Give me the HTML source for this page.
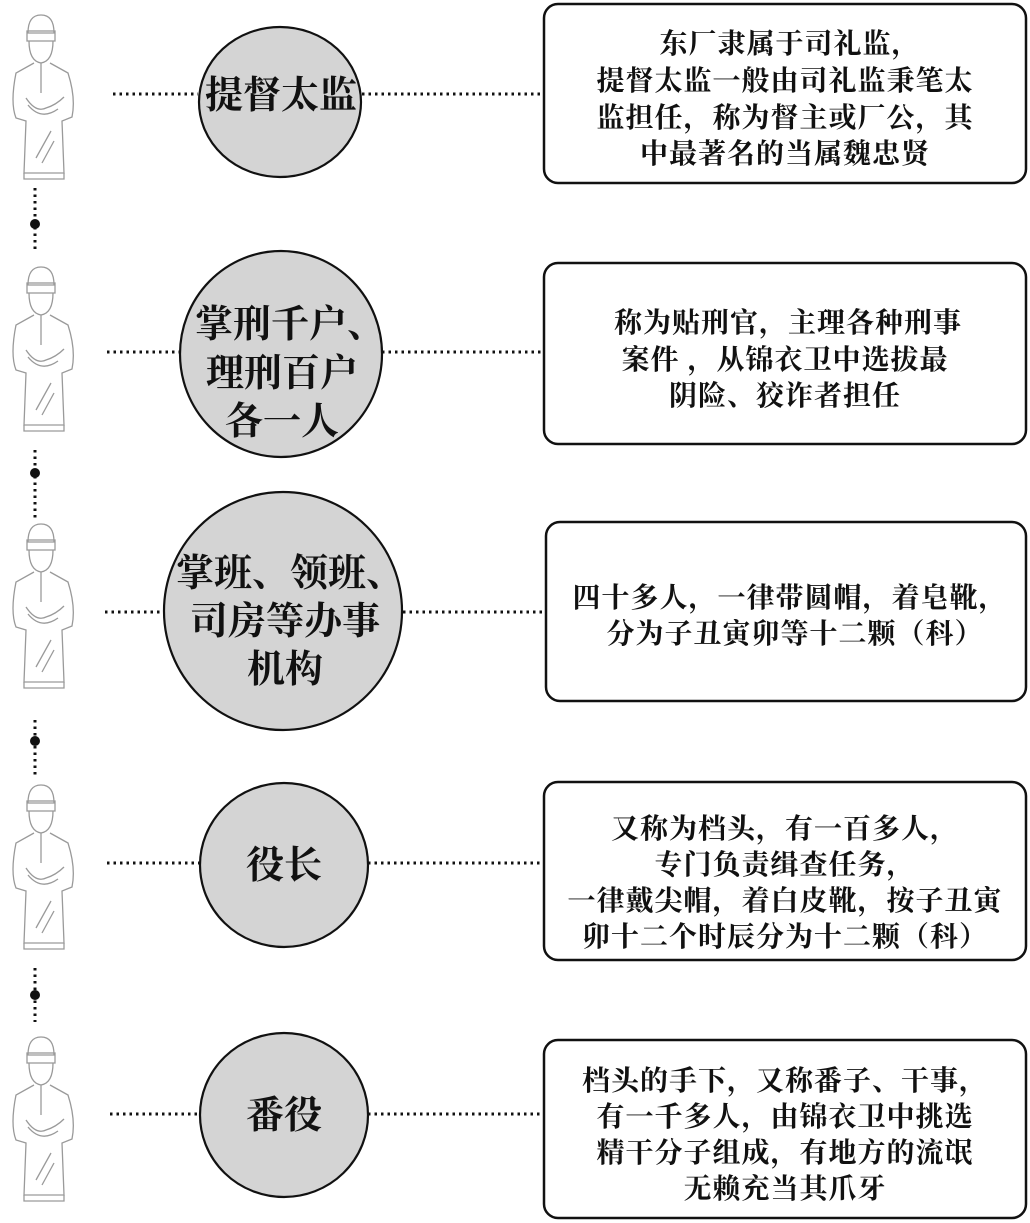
<!DOCTYPE html>
<html><head><meta charset="utf-8"><style>
html,body{margin:0;padding:0;background:#fff;}
svg{display:block;}
text{font-family:"Liberation Serif","Noto Serif CJK SC",serif;font-weight:700;fill:#111;}
</style></head><body>
<svg width="1030" height="1223" viewBox="0 0 1030 1223" xmlns="http://www.w3.org/2000/svg">
<defs>
<g id="fig" fill="none" stroke="#9a9a9a" stroke-width="1.3">
  <path d="M22 20 Q22 2 35 2 Q48 2 48 20 Z"/>
  <rect x="21" y="18" width="28" height="10"/>
  <path d="M23 28 Q23 48 35 50 Q47 48 47 28"/>
  <path d="M28 50 L10 60 Q4 90 10 105 L20 108 L18 160 L58 160 L56 108 L66 104 Q70 85 62 60 L44 50"/>
  <path d="M20 85 Q30 100 40 95 Q50 92 58 84"/>
  <path d="M22 92 Q35 108 52 96"/>
  <path d="M18 160 L18 166 L58 166 L58 160"/>
  <path d="M30 145 L45 118 M36 150 L48 128"/>
  <path d="M35 50 L35 80"/>
</g>
</defs>

<g>
<use href="#fig" x="6" y="13"/>
<use href="#fig" x="6" y="265"/>
<use href="#fig" x="6" y="522"/>
<use href="#fig" x="6" y="783"/>
<use href="#fig" x="6" y="1035"/>
</g>

<g stroke="#111" stroke-width="3" stroke-dasharray="2.5 4" fill="none">
  <line x1="113" y1="94" x2="198" y2="94"/><line x1="362" y1="94" x2="544" y2="94"/>
  <line x1="107" y1="352" x2="180" y2="352"/><line x1="382" y1="352" x2="544" y2="352"/>
  <line x1="105" y1="612" x2="164" y2="612"/><line x1="403" y1="612" x2="546" y2="612"/>
  <line x1="107" y1="863" x2="200" y2="863"/><line x1="368" y1="863" x2="544" y2="863"/>
  <line x1="110" y1="1114" x2="200" y2="1114"/><line x1="368" y1="1114" x2="544" y2="1114"/>
  <line x1="35" y1="188" x2="35" y2="250"/>
  <line x1="35" y1="450" x2="35" y2="518"/>
  <line x1="35" y1="720" x2="35" y2="776"/>
  <line x1="35" y1="968" x2="35" y2="1022"/>
</g>
<g fill="#111">
  <circle cx="35" cy="224" r="5"/><circle cx="35" cy="473" r="5"/>
  <circle cx="35" cy="741" r="5"/><circle cx="35" cy="995" r="5"/>
</g>

<g fill="#d4d4d4" stroke="#111" stroke-width="2.2">
  <ellipse cx="280" cy="102" rx="81" ry="75"/>
  <ellipse cx="281" cy="354" rx="101" ry="103"/>
  <ellipse cx="283" cy="611" rx="119" ry="119"/>
  <ellipse cx="284" cy="865" rx="84" ry="82"/>
  <ellipse cx="284" cy="1115" rx="84" ry="82"/>
</g>

<g fill="#fff" stroke="#111" stroke-width="2.5">
  <rect x="544" y="4" width="482" height="179" rx="14"/>
  <rect x="544" y="263" width="482" height="181" rx="14"/>
  <rect x="546" y="522" width="480" height="179" rx="14"/>
  <rect x="544" y="782" width="482" height="178" rx="14"/>
  <rect x="544" y="1040" width="482" height="178" rx="14"/>
</g>

<g font-size="38" text-anchor="middle">
  <text x="281" y="108">提督太监</text>
  <text x="290" y="337">掌刑千户、</text>
  <text x="282" y="386">理刑百户</text>
  <text x="282" y="434">各一人</text>
  <text x="290" y="586">掌班、领班、</text>
  <text x="285" y="634">司房等办事</text>
  <text x="285" y="682">机构</text>
  <text x="284" y="878">役长</text>
  <text x="284" y="1128">番役</text>
</g>

<g font-size="28" text-anchor="middle" letter-spacing="1">
  <text x="790" y="53">东厂隶属于司礼监，</text>
  <text x="785" y="90">提督太监一般由司礼监秉笔太</text>
  <text x="785" y="127">监担任，称为督主或厂公，其</text>
  <text x="785" y="163">中最著名的当属魏忠贤</text>

  <text x="788" y="332">称为贴刑官，主理各种刑事</text>
  <text x="785" y="369">案件 ，从锦衣卫中选拔最</text>
  <text x="785" y="405">阴险、狡诈者担任</text>

  <text x="790" y="607">四十多人，一律带圆帽，着皂靴，</text>
  <text x="795" y="643">分为子丑寅卯等十二颗（科）</text>

  <text x="785" y="838">又称为档头，有一百多人，</text>
  <text x="785" y="874">专门负责缉查任务，</text>
  <text x="785" y="910">一律戴尖帽，着白皮靴，按子丑寅</text>
  <text x="785" y="946">卯十二个时辰分为十二颗（科）</text>

  <text x="785" y="1090">档头的手下，又称番子、干事，</text>
  <text x="785" y="1126">有一千多人，由锦衣卫中挑选</text>
  <text x="785" y="1162">精干分子组成，有地方的流氓</text>
  <text x="785" y="1198">无赖充当其爪牙</text>
</g>
</svg>
</body></html>
